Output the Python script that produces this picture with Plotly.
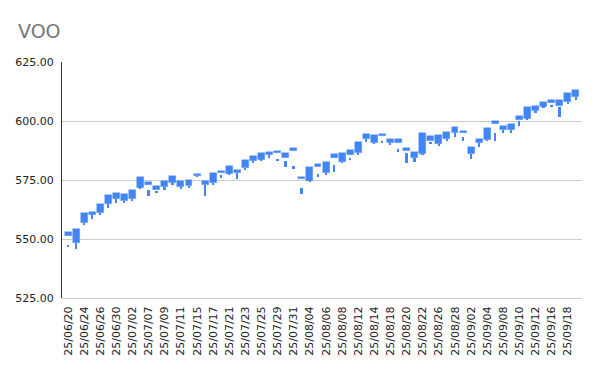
import plotly.graph_objects as go

dates = ["25/06/20","25/06/23","25/06/24","25/06/25","25/06/26","25/06/27","25/06/30",
         "25/07/01","25/07/02","25/07/03","25/07/07","25/07/08","25/07/09","25/07/10","25/07/11",
         "25/07/14","25/07/15","25/07/16","25/07/17","25/07/18","25/07/21","25/07/22","25/07/23",
         "25/07/24","25/07/25","25/07/28","25/07/29","25/07/30","25/07/31","25/08/01",
         "25/08/04","25/08/05","25/08/06","25/08/07","25/08/08","25/08/11","25/08/12","25/08/13",
         "25/08/14","25/08/15","25/08/18","25/08/19","25/08/20","25/08/21","25/08/22",
         "25/08/25","25/08/26","25/08/27","25/08/28","25/08/29","25/09/02","25/09/03",
         "25/09/04","25/09/05","25/09/08","25/09/09","25/09/10","25/09/11","25/09/12",
         "25/09/15","25/09/16","25/09/17","25/09/18","25/09/19"]

body_low = [551.3,548.4,556.7,560.3,560.9,564.8,566.9,566.1,566.8,571.7,572.8,570.8,572.2,573.6,572.2,
            572.6,576.6,573.0,573.6,578.1,577.7,577.8,580.2,583.1,583.5,585.7,586.6,584.4,587.4,575.3,
            574.7,580.4,577.8,584.4,582.6,585.7,586.6,592.5,590.6,593.6,590.7,590.8,587.4,584.4,585.9,
            591.7,590.1,592.2,594.8,595.0,585.9,590.6,591.9,598.7,596.1,596.2,600.6,601.0,604.2,
            606.1,607.8,606.5,608.2,610.3]
body_high = [553.1,554.1,560.9,561.4,564.8,568.6,569.5,569.2,570.8,576.1,574.0,572.3,574.7,576.7,574.7,
             575.0,577.5,574.7,578.1,578.8,580.9,579.1,583.3,585.0,586.3,586.7,587.4,586.6,588.6,576.1,
             580.4,581.8,582.6,585.9,586.6,587.6,591.2,594.5,593.9,594.5,592.4,592.5,588.4,586.9,594.8,
             593.6,593.9,595.5,597.5,595.9,589.1,592.5,597.0,600.0,597.9,598.7,602.1,605.8,606.4,
             608.2,608.9,608.8,611.7,613.1]
wick_low = [546.6,545.6,556.0,558.3,560.5,563.3,565.4,565.6,566.4,571.4,568.1,569.4,570.8,572.7,571.3,
            571.6,576.3,568.2,573.3,575.8,577.4,575.6,579.1,582.5,583.2,584.3,583.2,580.6,579.7,569.2,
            574.4,576.4,577.3,578.3,582.3,583.5,585.7,591.0,590.3,590.8,590.0,586.9,582.1,582.6,585.6,
            590.4,589.6,591.9,593.4,591.4,583.9,589.0,591.6,591.7,595.1,595.1,598.0,600.7,603.7,
            605.8,606.1,601.6,607.2,609.0]
wick_high = [547.5,548.4,556.7,560.3,560.9,564.8,566.9,566.1,566.8,571.7,570.6,570.3,572.2,573.6,572.2,
             572.6,576.6,573.0,573.6,577.0,577.7,577.8,580.2,583.1,583.5,585.7,583.9,583.2,580.9,571.5,
             574.7,577.4,577.8,581.4,582.6,584.4,586.6,592.5,590.6,591.5,590.7,588.1,586.6,584.4,585.9,
             590.8,590.1,592.2,594.8,593.1,585.9,590.6,591.9,594.9,596.1,596.2,599.9,601.0,604.2,
             606.1,606.9,605.9,608.2,610.3]

y_ticks = [525, 550, 575, 600, 625]

blue = "#4285F4"

fig = go.Figure()
fig.add_trace(go.Bar(
    x=dates, y=[h - l for l, h in zip(wick_low, wick_high)], base=wick_low,
    width=0.22, marker=dict(color=blue, line=dict(width=0)), showlegend=False, hoverinfo="skip"))
fig.add_trace(go.Bar(
    x=dates, y=[h - l for l, h in zip(body_low, body_high)], base=body_low,
    width=0.86, marker=dict(color=blue, line=dict(width=0.6, color="rgba(66,133,244,0.45)")),
    showlegend=False))

fig.update_layout(
    width=600, height=371,
    margin=dict(l=62, r=18, t=62, b=73),
    paper_bgcolor="white", plot_bgcolor="white",
    barmode="overlay", bargap=0,
    title=dict(text="VOO", x=18/600, xanchor="left", xref="container",
               y=1 - 31/371, yanchor="middle", yref="container",
               font=dict(family="DejaVu Sans", size=19, color="#757575")),
    font=dict(family="DejaVu Sans", size=11, color="#222222"),
)
fig.update_xaxes(
    type="category", categoryorder="array", categoryarray=dates,
    range=[-0.75, len(dates) - 0.25],
    tickmode="array", tickvals=dates[::2], ticktext=dates[::2],
    tickangle=-90, showgrid=False, showline=True, linecolor="#cccccc", linewidth=1,
    ticks="", ticklabelstandoff=3,
    tickfont=dict(family="DejaVu Sans", size=11, color="#222222"),
)
fig.update_yaxes(
    range=[525, 625], tickmode="array", tickvals=y_ticks,
    tickformat=".2f", showgrid=True, gridcolor="#cccccc", gridwidth=1,
    showline=True, linecolor="#333333", linewidth=1, zeroline=False,
    ticks="", ticklabelstandoff=5,
    tickfont=dict(family="DejaVu Sans", size=11, color="#222222"),
)

fig.write_html("out.html")
